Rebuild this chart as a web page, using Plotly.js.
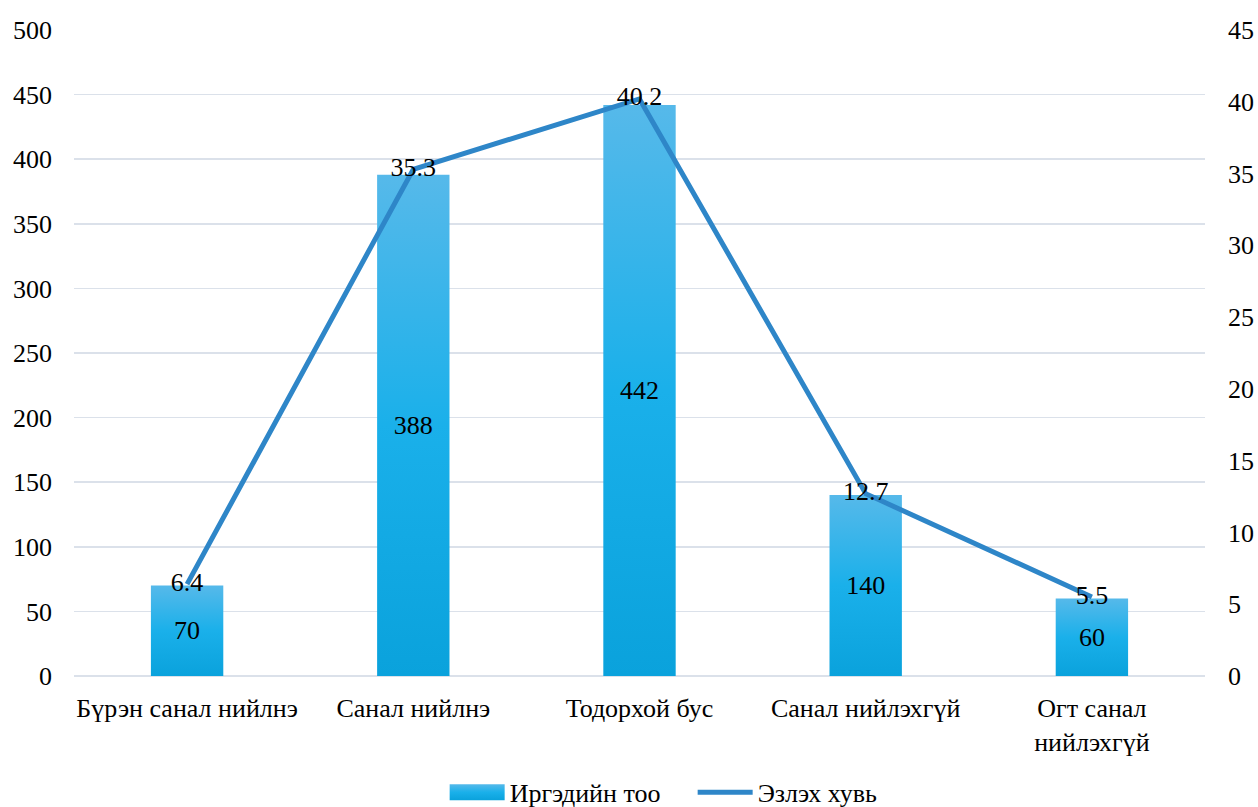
<!DOCTYPE html>
<html><head><meta charset="utf-8">
<script src="https://cdn.plot.ly/plotly-3.0.1.min.js"></script>
<style>html,body{margin:0;padding:0;background:#fff}#chart{width:1258px;height:807px}</style>
</head><body><div id="chart"></div>
<script>
const categories = ["Бүрэн санал нийлнэ", "Санал нийлнэ", "Тодорхой бус", "Санал нийлэхгүй", "Огт санал<br>нийлэхгүй"];
const citizenCount = [70, 388, 442, 140, 60];
const sharePercent = [6.4, 35.3, 40.2, 12.7, 5.5];
const barName = "Иргэдийн тоо";
const lineName = "Эзлэх хувь";

const FONT = "Liberation Serif";
const FS = 26;
const traces = [
  {type:"bar", name:barName, x:categories, y:citizenCount, text:citizenCount.map(String),
   textposition:"inside", insidetextanchor:"middle", textangle:0,
   textfont:{family:FONT,size:FS,color:"#000"},
   marker:{color:"#1aaee6", line:{width:0}}, width:0.32, hoverinfo:"x+y"},
  {type:"scatter", mode:"lines+text", name:lineName, x:categories, y:sharePercent, yaxis:"y2",
   text:sharePercent.map(String), textposition:"middle center",
   textfont:{family:FONT,size:FS,color:"#000"}, cliponaxis:false,
   line:{color:"#2e86c8", width:5}}
];
const layout = {
  width:1258, height:807,
  margin:{l:74, r:53, t:30, b:131, autoexpand:false},
  paper_bgcolor:"#fff", plot_bgcolor:"#fff",
  font:{family:FONT, size:FS, color:"#000"},
  showlegend:true,
  legend:{orientation:"h", x:0.547, xanchor:"center", y:-0.18, yanchor:"middle", font:{family:FONT,size:FS}, traceorder:"normal", itemwidth:55,
          entrywidth:178, entrywidthmode:"pixels"},
  xaxis:{showgrid:false, showline:false, ticks:"", tickfont:{family:FONT,size:FS}, ticklabelstandoff:14, automargin:false},
  yaxis:{range:[0,500], dtick:50, showgrid:true, gridcolor:"#dbe1ea", gridwidth:1.5, zeroline:true, zerolinecolor:"#dbe1ea", zerolinewidth:1.5,
         ticks:"", showline:false, tickfont:{family:FONT,size:FS}, ticklabelstandoff:21, automargin:false},
  yaxis2:{range:[0,45], dtick:5, overlaying:"y", side:"right", showgrid:false, zeroline:false, ticks:"", showline:false,
          tickfont:{family:FONT,size:FS}, ticklabelstandoff:22, automargin:false}
};
const gd = document.getElementById("chart");
function applyGradient(){
  const svg = gd.querySelector("svg.main-svg");
  if(!svg) return;
  let defs = svg.querySelector("defs");
  if(!defs){defs = document.createElementNS("http://www.w3.org/2000/svg","defs"); svg.insertBefore(defs, svg.firstChild);}
  if(!svg.querySelector("#barGrad")){
    const g = document.createElementNS("http://www.w3.org/2000/svg","linearGradient");
    g.setAttribute("id","barGrad"); g.setAttribute("x1","0"); g.setAttribute("y1","0"); g.setAttribute("x2","0"); g.setAttribute("y2","1");
    [["0%","#56b9ea"],["50%","#1ab0ea"],["100%","#0aa2dc"]].forEach(([o,c])=>{
      const s=document.createElementNS("http://www.w3.org/2000/svg","stop"); s.setAttribute("offset",o); s.setAttribute("stop-color",c); g.appendChild(s);
    });
    defs.appendChild(g);
  }
  gd.querySelectorAll(".barlayer .point path").forEach(p=>{ p.style.fill = "url(#barGrad)"; });
  const items = gd.querySelectorAll(".legend .traces");
  if(items.length===2){
    const lp = items[1].querySelector(".legendlines path");
    const bp = items[0].querySelector(".legendpoints path");
    if(lp && bp){
      const bb = lp.getBBox();
      bp.setAttribute("d", "M"+bb.x+",-8h"+bb.width+"v16h-"+bb.width+"z");
      bp.setAttribute("transform","");
      bp.style.fill="url(#barGrad)";
      const pg = items[0].querySelector(".legendpoints");
      const lg = items[1].querySelector(".legendlines");
      if(pg && lg) pg.setAttribute("transform", lg.getAttribute("transform")||"");
    }
  }
}
Plotly.newPlot(gd, traces, layout, {displayModeBar:false, staticPlot:true}).then(()=>{
  applyGradient();
});
</script></body></html>
